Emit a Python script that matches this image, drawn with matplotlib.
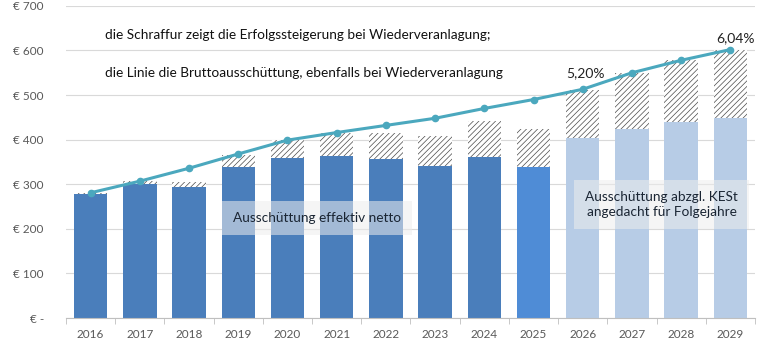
import numpy as np
import matplotlib
matplotlib.use("Agg")
import matplotlib.pyplot as plt

plt.rcParams['font.family'] = ['Lato', 'DejaVu Sans']
plt.rcParams['hatch.linewidth'] = 0.5

# Daten
jahre = ['2016', '2017', '2018', '2019', '2020', '2021', '2022',
         '2023', '2024', '2025', '2026', '2027', '2028', '2029']
netto = [278, 300, 293, 339, 359, 364, 356, 341, 361, 339, 404, 424, 439, 449]
mit_wiederanlage = [280, 307, 306, 365, 399, 415, 416, 408, 442, 424, 511, 549, 578, 602]
brutto = [281, 307, 336, 368, 399, 416, 432, 448, 470, 490, 513, 550, 578, 602]
farben = ['#4A7EBB'] * 9 + ['#4F8CD6'] + ['#B7CCE6'] * 4
prozent_labels = {10: '5,20%', 13: '6,04%'}
ticks_y = [0, 100, 200, 300, 400, 500, 600, 700]
tick_labels_y = ['€ -', '€ 100', '€ 200', '€ 300', '€ 400', '€ 500', '€ 600', '€ 700']

fig = plt.figure(figsize=(7.68, 3.45), dpi=100)
ax = fig.add_axes([0.086, 0.078, 0.897, 0.905])

x = np.arange(len(jahre))
breite = 0.68
ax.bar(x, netto, width=breite, color=farben, zorder=2)
schraffur = np.array(mit_wiederanlage) - np.array(netto)
ax.bar(x, schraffur, bottom=netto, width=breite, facecolor='white',
       edgecolor='#4a4a4a', linewidth=0, hatch='//////', zorder=2)

ax.plot(x, brutto, color='#4BA8BE', linewidth=2.2, marker='o', markersize=4.5, zorder=3)
ax.text(x[10] + 0.05, brutto[10] + 22, prozent_labels[10], ha='center', va='bottom',
        fontsize=10, color='#222222')
ax.text(x[13] + 0.1, brutto[13] + 12, prozent_labels[13], ha='center', va='bottom',
        fontsize=10, color='#222222')

ax.set_xlim(-0.5, len(jahre) - 0.5)
ax.set_ylim(0, 700)
ax.set_yticks(ticks_y)
ax.set_yticklabels(tick_labels_y)
ax.set_xticks(x)
ax.set_xticklabels(jahre)
ax.set_xticks(np.arange(-0.5, len(jahre)), minor=True)
ax.tick_params(axis='x', which='major', length=0, pad=8, labelsize=8.5, colors='#595959')
ax.tick_params(axis='x', which='minor', length=4, color='#BFBFBF')
ax.tick_params(axis='y', length=0, pad=16, labelsize=8.5, colors='#595959')
ax.grid(axis='y', color='#D9D9D9', linewidth=0.8, zorder=0)
ax.set_axisbelow(True)
for s in ['top', 'right', 'left']:
    ax.spines[s].set_visible(False)
ax.spines['bottom'].set_color('#BFBFBF')

ax.text(0.3, 635, 'die Schraffur zeigt die Erfolgssteigerung bei Wiederveranlagung;',
        fontsize=9.8, color='#111111', va='center')
ax.text(0.3, 550, 'die Linie die Bruttoausschüttung, ebenfalls bei Wiederveranlagung',
        fontsize=9.8, color='#111111', va='center')

box = dict(boxstyle='square,pad=0.8', facecolor='#EDEDED', edgecolor='none', alpha=0.55)
ax.text(4.6, 225, 'Ausschüttung effektiv netto', fontsize=9.8, color='#1a2533',
        ha='center', va='center', bbox=box)
ax.text(11.6, 255, 'Ausschüttung abzgl. KESt\nangedacht für Folgejahre', fontsize=9.8,
        color='#1a2533', ha='center', va='center', linespacing=1.3, bbox=box)

fig.savefig('out.png', dpi=100)
